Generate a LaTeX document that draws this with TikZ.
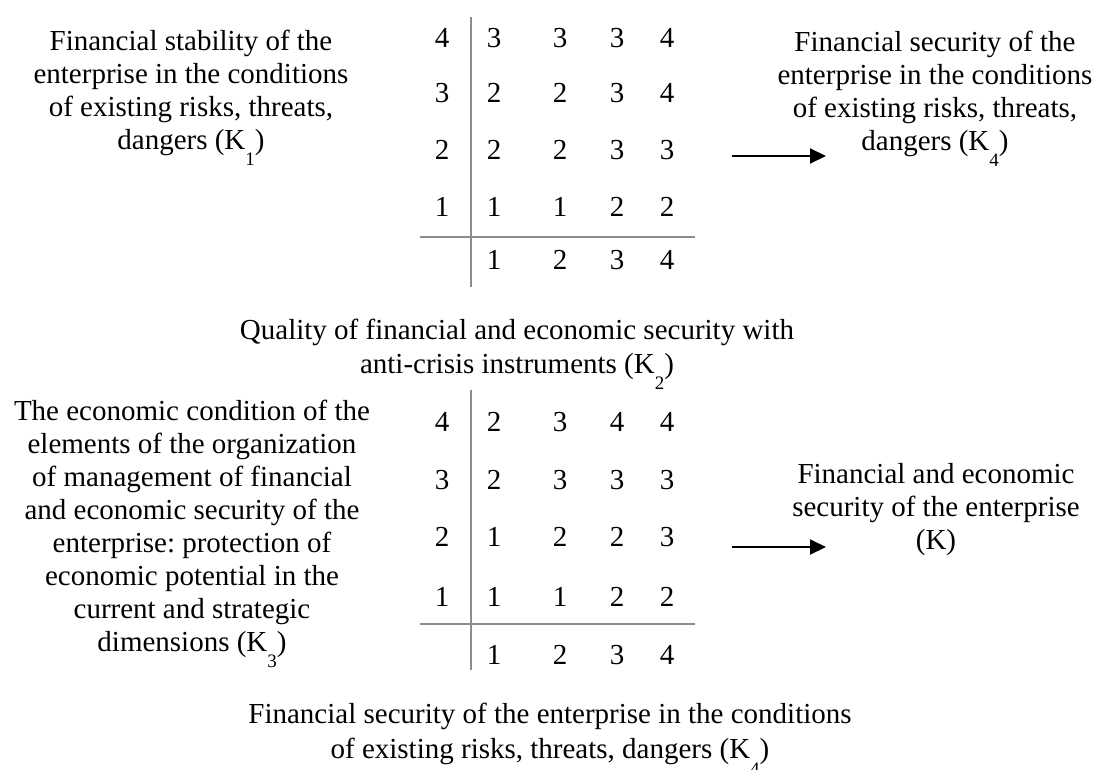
\documentclass[tikz,border=0pt]{standalone}
\usepackage{fontspec}
\setmainfont{Liberation Serif}
\usepackage{tikz}
\usetikzlibrary{arrows.meta}
\definecolor{axiscolor}{RGB}{140,140,140}
\newcommand{\ksub}[1]{\raisebox{-0.58em}{\fontsize{19}{19}\selectfont #1}}
\frenchspacing

\begin{document}
\begin{tikzpicture}[x=1pt,y=-1pt,
    every node/.style={inner sep=0pt, font=\fontsize{29}{33}\selectfont},
    textblock/.style={align=center, anchor=north},
    axis/.style={draw=axiscolor, line width=2pt},
    flow/.style={-{Triangle[length=16pt,width=15pt]}, line width=2pt}]
    \useasboundingbox (0,0) rectangle (1098,769);

    % Upper table
    \draw[axis] (471,17) -- (471,287);
    \draw[axis] (420,237) -- (695,237);
    \foreach \y/\r/\a/\b/\c/\d in {38/4/3/3/3/4, 93/3/2/2/3/4, 150/2/2/2/3/3, 207/1/1/1/2/2} {
        \node (ul\r) at (442,\y) {\r};
        \node (u\r a) at (494,\y) {\a};
        \node (u\r b) at (560,\y) {\b};
        \node (u\r c) at (617,\y) {\c};
        \node (u\r d) at (667,\y) {\d};
    }
    \foreach \x/\n in {494/1, 560/2, 617/3, 667/4}
        \node (ux\n) at (\x,260) {\n};

    \node[textblock] (stab) at (191,29.5) {Financial stability of the\\enterprise in the conditions\\of existing risks, threats,\\dangers (K\ksub{1})};
    \node[textblock] (fsec) at (935,30.5) {Financial security of the\\enterprise in the conditions\\of existing risks, threats,\\dangers (K\ksub{4})};
    \coordinate (arrUs) at (732,156);
    \coordinate (arrUe) at (826,156);
    \draw[flow] (arrUs) -- (arrUe);

    \node[textblock, font=\fontsize{29}{34}\selectfont] (qual) at (517,318.5) {Quality of financial and economic security with\\anti-crisis instruments (K\ksub{2})};

    % Lower table
    \draw[axis] (471,390) -- (471,670);
    \draw[axis] (420,624) -- (695,624);
    \foreach \y/\r/\a/\b/\c/\d in {422/4/2/3/4/4, 480/3/2/3/3/3, 537/2/1/2/2/3, 597/1/1/1/2/2} {
        \node (ll\r) at (442,\y) {\r};
        \node (l\r a) at (494,\y) {\a};
        \node (l\r b) at (560,\y) {\b};
        \node (l\r c) at (617,\y) {\c};
        \node (l\r d) at (667,\y) {\d};
    }
    \foreach \x/\n in {494/1, 560/2, 617/3, 667/4}
        \node (lx\n) at (\x,655) {\n};

    \node[textblock] (econ) at (192,399.5) {The economic condition of the\\elements of the organization\\of management of financial\\and economic security of the\\enterprise: protection of\\economic potential in the\\current and strategic\\dimensions (K\ksub{3})};
    \node[textblock] (total) at (936,463.5) {Financial and economic\\security of the enterprise\\(K)};
    \coordinate (arrLs) at (732,547);
    \coordinate (arrLe) at (826,547);
    \draw[flow] (arrLs) -- (arrLe);

    \node[textblock, font=\fontsize{29}{35}\selectfont] (risk) at (550,703) {Financial security of the enterprise in the conditions\\of existing risks, threats, dangers (K\ksub{4})};
\end{tikzpicture}
\end{document}
